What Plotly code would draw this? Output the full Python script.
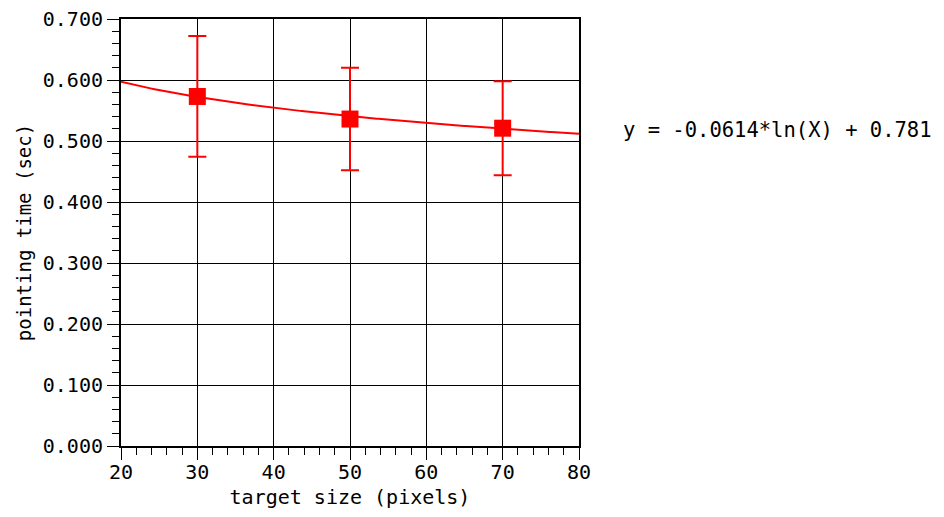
import numpy as np
import plotly.graph_objects as go

# data
target_sizes = [30, 50, 70]
pointing_time = [0.573, 0.536, 0.521]
error_sd = [0.099, 0.084, 0.077]

# fitted log trend shown on chart: y = a*ln(X) + b
fit_a = -0.0614
fit_b = 0.781
fit_label = "y = -0.0614*ln(X) + 0.781"

x_ticks = [20, 30, 40, 50, 60, 70, 80]
y_ticks = [0.0, 0.1, 0.2, 0.3, 0.4, 0.5, 0.6, 0.7]
y_tick_text = ["0.000", "0.100", "0.200", "0.300", "0.400", "0.500", "0.600", "0.700"]

FONT = "DejaVu Sans Mono"

xf = np.linspace(20, 80, 300)
yf = fit_a * np.log(xf) + fit_b

fig = go.Figure()
fig.add_trace(go.Scatter(x=xf, y=yf, mode="lines",
                         line=dict(color="#ff0000", width=2), showlegend=False,
                         hoverinfo="skip"))
fig.add_trace(go.Scatter(x=target_sizes, y=pointing_time, mode="markers",
                         marker=dict(symbol="square", size=17, color="#ff0000"),
                         error_y=dict(type="data", array=error_sd, visible=True,
                                      color="#ff0000", thickness=2, width=9),
                         showlegend=False))

fig.add_annotation(x=(621 - 121) / (579 - 121), y=(445.5 - 130) / (445.5 - 19.3),
                   xref="paper", yref="paper", text=fit_label,
                   showarrow=False, xanchor="left", yanchor="middle",
                   font=dict(family=FONT, size=20.5, color="black"))

fig.update_layout(
    width=944, height=517,
    margin=dict(l=121, r=944 - 579, t=19, b=71, autoexpand=False),
    paper_bgcolor="white", plot_bgcolor="white",
    font=dict(family=FONT, size=20, color="black"),
    xaxis=dict(range=[20, 80], tickvals=x_ticks, ticks="outside", ticklen=12,
               tickwidth=1, tickcolor="black", automargin=False, ticklabelstandoff=-5,
               minor=dict(dtick=2, ticks="outside", ticklen=7, tickcolor="black", showgrid=False),
               showgrid=True, gridcolor="black", gridwidth=1,
               showline=True, linecolor="black", linewidth=2, mirror=True,
               zeroline=False,
               title=dict(text="target size (pixels)", standoff=7, font=dict(size=20)),
               tickfont=dict(size=20)),
    yaxis=dict(range=[0, 0.7], tickvals=y_ticks, ticktext=y_tick_text,
               ticks="outside", ticklen=12, tickwidth=1, tickcolor="black", automargin=False,
               minor=dict(dtick=0.02, ticks="outside", ticklen=7, tickcolor="black", showgrid=False),
               showgrid=True, gridcolor="black", gridwidth=1,
               showline=True, linecolor="black", linewidth=2, mirror=True,
               zeroline=False,
               title=dict(text="pointing time (sec)", standoff=6, font=dict(size=19)),
               tickfont=dict(size=20)),
)

fig.write_html("out.html")
